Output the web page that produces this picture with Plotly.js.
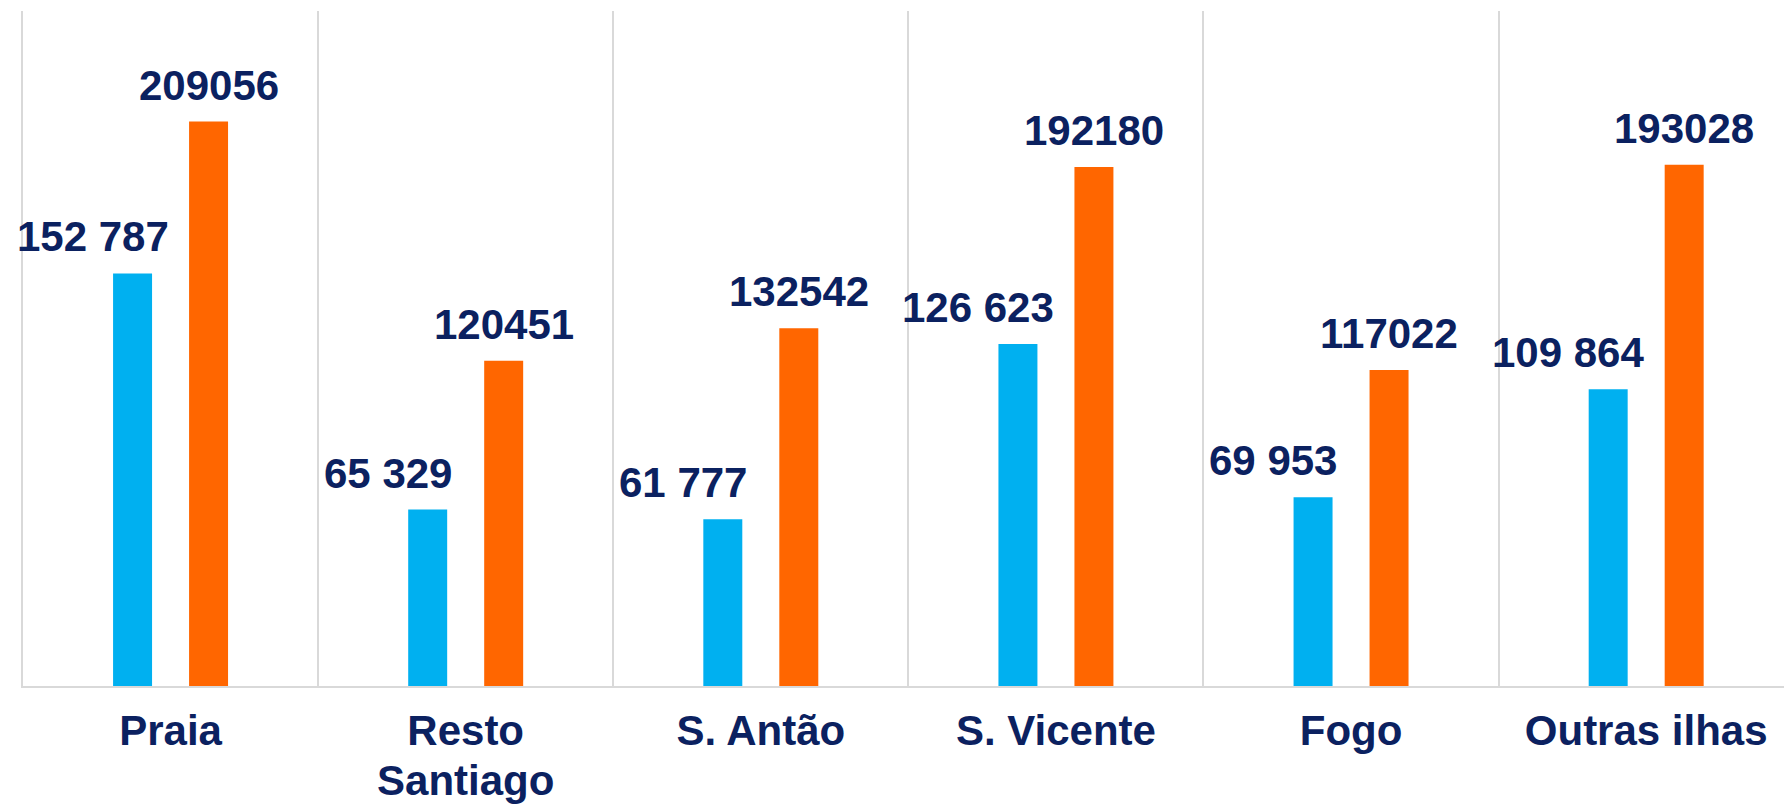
<!DOCTYPE html>
<html>
<head>
<meta charset="utf-8">
<script src="https://cdn.plot.ly/plotly-3.0.1.min.js"></script>
<style>html,body{margin:0;padding:0;background:#fff;}#chart{width:1784px;height:807px;}</style>
</head>
<body>
<div id="chart"></div>
<script>
const categories = ["Praia", "Resto<br>Santiago", "S. Antão", "S. Vicente", "Fogo", "Outras ilhas"];
const seriesBlue = [152787, 65329, 61777, 126623, 69953, 109864];
const seriesOrange = [209056, 120451, 132542, 192180, 117022, 193028];

const navy = "#0B2160";
const font = "'Liberation Sans', Arial, sans-serif";

function spaced(v) { return String(v).replace(/\B(?=(\d{3})+(?!\d))/g, " "); }

const traces = [
  { type: "bar", x: categories, y: seriesBlue, marker: { color: "#00B0F0" }, hoverinfo: "none" },
  { type: "bar", x: categories, y: seriesOrange, marker: { color: "#FF6600" }, hoverinfo: "none" }
];

const annotations = [];
categories.forEach((c, i) => {
  annotations.push({ x: c, y: seriesBlue[i], xref: "x", yref: "y", text: "<b>" + spaced(seriesBlue[i]) + "</b>",
    showarrow: false, xanchor: "center", yanchor: "bottom", xshift: -78, yshift: 11,
    font: { family: font, size: 42, color: navy } });
  annotations.push({ x: c, y: seriesOrange[i], xref: "x", yref: "y", text: "<b>" + seriesOrange[i] + "</b>",
    showarrow: false, xanchor: "center", yanchor: "bottom", xshift: 38, yshift: 11,
    font: { family: font, size: 42, color: navy } });
});

// tick labels: base font sets the (tighter) line spacing, span sets glyph size
const tickText = categories.map(c => c.split("<br>").map(s => '<span style="font-size:42px">' + s + '</span>').join("<br>"));

const layout = {
  width: 1784, height: 807,
  margin: { l: 23, r: 0, t: 11, b: 121 },
  paper_bgcolor: "#fff", plot_bgcolor: "#fff",
  showlegend: false,
  barmode: "group", bargap: 0.485, bargroupgap: 0.487,
  xaxis: {
    type: "category", range: [-0.5, 5.467],
    tickson: "boundaries", showgrid: true, gridcolor: "#D9D9D9", gridwidth: 2,
    showline: true, linecolor: "#D9D9D9", linewidth: 2,
    tickmode: "array", tickvals: categories, ticktext: tickText,
    ticks: "", ticklabelstandoff: 11,
    tickfont: { family: font, size: 38.5, color: navy, weight: "bold" }
  },
  yaxis: {
    range: [0, 250000], showgrid: false, zeroline: false, showticklabels: false,
    showline: true, linecolor: "#D9D9D9", linewidth: 2, ticks: ""
  },
  annotations: annotations
};

Plotly.newPlot("chart", traces, layout, { staticPlot: true, displayModeBar: false });
</script>
</body>
</html>
